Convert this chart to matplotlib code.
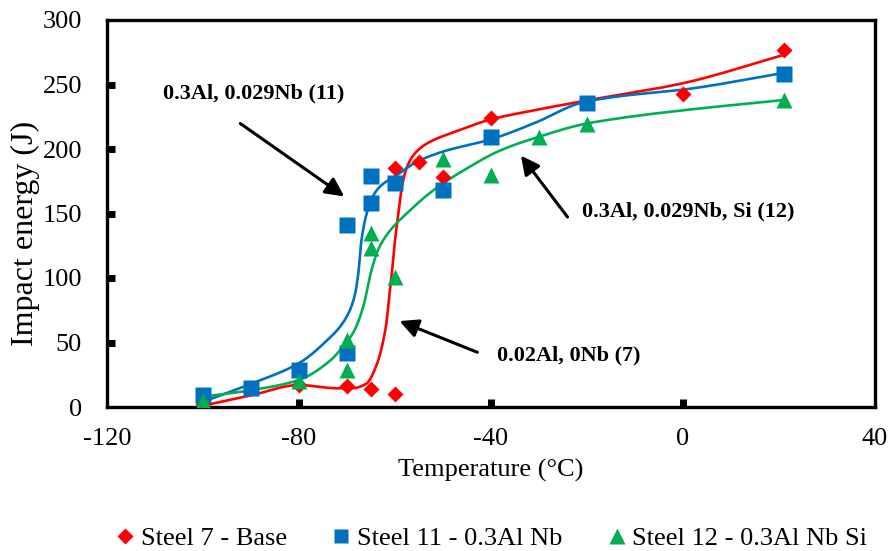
import numpy as np
import matplotlib
matplotlib.use("Agg")
import matplotlib.pyplot as plt
from matplotlib.lines import Line2D

plt.rcParams['font.family'] = ['Liberation Serif', 'DejaVu Serif']
plt.rcParams['axes.unicode_minus'] = False

# measured Charpy points
red_t = [-100, -80, -70, -65, -60, -60, -55, -50, -40, 0, 21]
red_e = [2, 17, 16, 14, 10, 185, 190, 178, 224, 243, 277]

blue_t = [-100, -90, -80, -70, -70, -65, -65, -60, -50, -40, -20, 21]
blue_e = [9, 15, 29, 141, 42, 179, 158, 174, 168, 209, 236, 258]

green_t = [-100, -80, -70, -70, -65, -65, -60, -50, -40, -30, -20, 21]
green_e = [5, 20, 52, 29, 135, 123, 101, 192, 180, 209, 219, 238]

# knots of the hand-fitted transition curves
red_curve_t = [-100, -90, -80, -72, -69, -66, -64, -62, -61.2, -60.6, -60, -59.3,
               -58.6, -57.5, -56, -53, -47, -40, -31, -21, 0, 21]
red_curve_e = [1, 9, 17, 14.5, 14.5, 18, 31, 60, 85, 106, 129, 150,
               170, 186, 196, 205, 214, 223, 230, 237, 251, 273]

blue_curve_t = [-100, -90, -80, -73.5, -71.5, -69.4, -68.3, -67.6, -67, -65.9, -64.5,
                -63.1, -59.5, -55.5, -50, -40, -31, -21, -13, 0, 21]
blue_curve_e = [4, 18, 34, 54, 62, 75, 88, 105, 129, 150, 164,
                171, 180, 190, 198, 207.5, 220, 236, 241, 246, 259]

green_curve_t = [-100, -90, -80, -73.5, -70.8, -68.5, -66.6, -64.9, -63.5, -61.4, -57,
                 -52, -45, -38, -30, -21, -13, 0, 21]
green_curve_e = [8, 13, 21, 36, 47, 59, 78, 106, 122, 135, 152,
                 168, 185, 199, 209.5, 219, 224, 230, 238]

xticks = [-120, -80, -40, 0, 40]
yticks = [0, 50, 100, 150, 200, 250, 300]

RED = '#FF0000'
BLUE = '#0070C0'
GREEN = '#00B050'


def pchip(x, y, xs):
    # shape-preserving cubic through the knots, used as a smoothed line
    x = np.asarray(x, float)
    y = np.asarray(y, float)
    h = np.diff(x)
    d = np.diff(y) / h
    m = np.zeros_like(y)
    m[0], m[-1] = d[0], d[-1]
    for k in range(1, len(x) - 1):
        if d[k - 1] * d[k] > 0:
            w1 = 2 * h[k] + h[k - 1]
            w2 = h[k] + 2 * h[k - 1]
            m[k] = (w1 + w2) / (w1 / d[k - 1] + w2 / d[k])
    idx = np.clip(np.searchsorted(x, xs) - 1, 0, len(x) - 2)
    t = (xs - x[idx]) / h[idx]
    h00 = 2 * t**3 - 3 * t**2 + 1
    h10 = t**3 - 2 * t**2 + t
    h01 = -2 * t**3 + 3 * t**2
    h11 = t**3 - t**2
    return h00 * y[idx] + h10 * h[idx] * m[idx] + h01 * y[idx + 1] + h11 * h[idx] * m[idx + 1]


fig = plt.figure(figsize=(8.92, 5.51), dpi=100)
ax = fig.add_axes([107 / 892, 1 - 407 / 551, 768 / 892, 387 / 551])

for kt, ke, c in [(red_curve_t, red_curve_e, RED),
                  (blue_curve_t, blue_curve_e, BLUE),
                  (green_curve_t, green_curve_e, GREEN)]:
    xs = np.linspace(kt[0], kt[-1], 800)
    ax.plot(xs, pchip(kt, ke, xs), color=c, lw=1.9, zorder=2,
            solid_joinstyle='round')

ax.plot(red_t, red_e, 'D', color=RED, ms=8.5, mec='none', zorder=3)
ax.plot(blue_t, blue_e, 's', color=BLUE, ms=11, mec='none', zorder=4)
ax.plot(green_t, green_e, '^', color=GREEN, ms=12, mec='none', zorder=5)

ax.set_xlim(-120, 40)
ax.set_ylim(0, 300)
ax.set_xticks(xticks)
ax.set_yticks(yticks)
ax.tick_params(direction='in', length=6, width=5, labelsize=19, color='black')
ax.tick_params(axis='y', pad=18)
ax.tick_params(axis='x', pad=15)
# no tick marks on the corners
for axis in (ax.xaxis, ax.yaxis):
    ticks = axis.get_major_ticks()
    for tk in (ticks[0], ticks[-1]):
        tk.tick1line.set_visible(False)
for s in ax.spines.values():
    s.set_linewidth(2.4)

ax.set_xlabel('Temperature (°C)', fontsize=19, va='center')
ax.xaxis.set_label_coords(0.5, (407 - 470) / 387)
ax.set_ylabel('Impact energy (J)', fontsize=23, va='center')
ax.yaxis.set_label_coords((25 - 107) / 768, (407 - 233) / 387)

# labels and arrows pointing at the curves
arrow = dict(arrowstyle='-|>', color='black', lw=2.2, mutation_scale=28)
ax.annotate('', xy=(-70.1, 162), xytext=(-92.7, 221), arrowprops=arrow)
ax.text(-108.4, 243.4, '0.3Al, 0.029Nb (11)', fontsize=16, fontweight='bold',
        ha='left', va='center')
ax.annotate('', xy=(-34.1, 196.6), xytext=(-23.7, 145.5), arrowprops=arrow)
ax.text(-21.1, 151.4, '0.3Al, 0.029Nb, Si (12)', fontsize=16, fontweight='bold',
        ha='left', va='center')
ax.annotate('', xy=(-59.6, 67.4), xytext=(-42.3, 41.6), arrowprops=arrow)
ax.text(-38.7, 40.3, '0.02Al, 0Nb (7)', fontsize=16, fontweight='bold',
        ha='left', va='center')

handles = [
    Line2D([], [], ls='none', marker='D', color=RED, ms=8, mec='none'),
    Line2D([], [], ls='none', marker='s', color=BLUE, ms=10, mec='none'),
    Line2D([], [], ls='none', marker='^', color=GREEN, ms=11, mec='none'),
]
labels = ['Steel 7 - Base', 'Steel 11 - 0.3Al Nb', 'Steel 12 - 0.3Al Nb Si']
fig.legend(handles, labels, loc='center', bbox_to_anchor=(0.552, 13 / 551), ncol=3,
           frameon=False, fontsize=19, handlelength=0.6, handletextpad=0.3,
           columnspacing=1.75, borderaxespad=0)

fig.savefig('out.png', dpi=100)
